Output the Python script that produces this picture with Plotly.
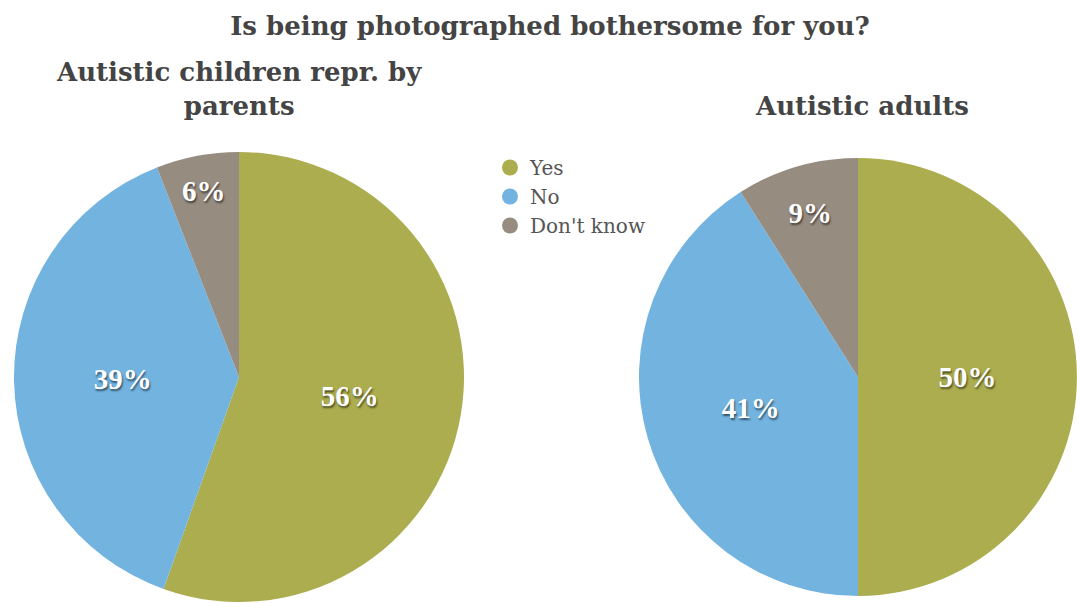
import plotly.graph_objects as go

W, H = 1077, 603

categories = ["Yes", "No", "Don't know"]
children_pct = [56, 39, 6]
adults_pct = [50, 41, 9]
colors = ["#ABAD4E", "#72B3E0", "#978C80"]

serif = "'Liberation Serif', 'Times New Roman', serif"
wide_serif = "'DejaVu Serif', serif"

fig = go.Figure()

pie_text = dict(family=serif, size=29, color="white", weight="bold",
                shadow="1px 2px 2px rgba(0,0,0,0.55)")

fig.add_trace(go.Pie(
    labels=categories, values=children_pct,
    marker=dict(colors=colors, line=dict(width=0)),
    sort=False, direction="clockwise", rotation=0,
    texttemplate="%{value}%", textposition="inside",
    insidetextorientation="horizontal",
    textfont=pie_text, showlegend=False, hoverinfo="label+value",
    domain=dict(x=[14 / W, 464 / W], y=[0, 452 / H]),
))

fig.add_trace(go.Pie(
    labels=categories, values=adults_pct,
    marker=dict(colors=colors, line=dict(width=0)),
    sort=False, direction="clockwise", rotation=0,
    texttemplate="%{value}%", textposition="inside",
    insidetextorientation="horizontal",
    textfont=pie_text, showlegend=False, hoverinfo="label+value",
    domain=dict(x=[639 / W, 1.0], y=[0, 452 / H]),
))

# legend entries with round markers
for name, col in zip(categories, colors):
    fig.add_trace(go.Scatter(
        x=[None], y=[None], mode="markers", name=name,
        marker=dict(symbol="circle", size=22, color=col),
        showlegend=True,
    ))

fig.update_layout(
    width=W, height=H,
    margin=dict(l=0, r=0, t=0, b=0),
    paper_bgcolor="white", plot_bgcolor="white",
    xaxis=dict(visible=False), yaxis=dict(visible=False),
    title=dict(
        text="<b>Is being photographed bothersome for you?</b>",
        x=550 / W, xanchor="center", y=1 - 26 / H, yanchor="middle",
        font=dict(family=wide_serif, size=26, color="#444444"),
    ),
    legend=dict(
        x=490 / W, y=1 - 148 / H, xanchor="left", yanchor="top",
        font=dict(family=wide_serif, size=20, color="#555555"),
        bgcolor="rgba(0,0,0,0)", itemsizing="trace", tracegroupgap=0,
    ),
    annotations=[
        dict(text="<b>Autistic children repr. by<br>parents</b>",
             x=239 / W, y=1 - 89 / H, xref="paper", yref="paper",
             xanchor="center", yanchor="middle", showarrow=False,
             font=dict(family=wide_serif, size=26, color="#444444")),
        dict(text="<b>Autistic adults</b>",
             x=862 / W, y=1 - 106 / H, xref="paper", yref="paper",
             xanchor="center", yanchor="middle", showarrow=False,
             font=dict(family=wide_serif, size=26, color="#444444")),
    ],
)

fig.write_html("out.html")
